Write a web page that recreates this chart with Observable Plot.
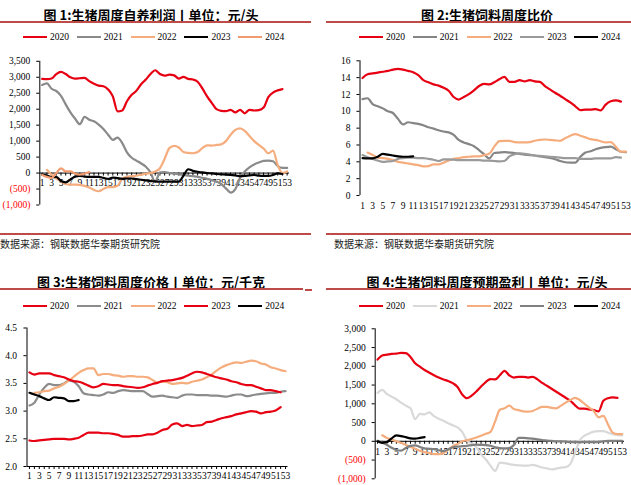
<!DOCTYPE html>
<html><head><meta charset="utf-8">
<script src="https://cdn.jsdelivr.net/npm/d3@7"></script>
<script src="https://cdn.jsdelivr.net/npm/@observablehq/plot@0.6"></script>
<style>
body{margin:0;width:631px;height:485px;position:relative;overflow:hidden;background:#fff;font-family:"Liberation Serif",serif;}
.title{position:absolute;font-family:"Noto Sans CJK SC",sans-serif;font-weight:700;font-size:13px;color:#000;white-space:nowrap;transform:translate(-50%,-50%);line-height:1;}
.rule{position:absolute;height:2px;background:#BE4B48;}
.src{position:absolute;font-family:"Noto Sans CJK SC",sans-serif;font-size:10px;color:#222;white-space:nowrap;transform:translateY(-50%);line-height:1;}
.chart{position:absolute;}
.lg{position:absolute;display:flex;align-items:center;transform:translateY(-50%);font-size:9.5px;color:#000;white-space:nowrap;}
.lg span.ln{display:inline-block;width:24px;height:2.5px;margin-right:3px;}
</style></head>
<body>
<script>
const weeks = d3.range(1, 54);
const oddWeeks = weeks.filter(w => w % 2 === 1);
const years = ["2020", "2021", "2022", "2023", "2024"];
const N = null;

// ---------- Panel 1: 生猪周度自养利润 (元/头) ----------
const p1Title = "图 1:生猪周度自养利润丨单位：元/头";
const p1Colors = ["#E60012", "#8A8A8A", "#F5AD7E", "#000000", "#F39B70"];
const p1YTicks = [-1000, -500, 0, 500, 1000, 1500, 2000, 2500, 3000, 3500];
const p1_2020 = [2950,2940,2960,3100,3170,3100,3000,2960,2970,2980,2880,2800,2740,2720,2620,2400,1930,1960,2250,2450,2580,2780,2930,3100,3220,3100,3050,3080,3060,2960,3010,2950,2930,2860,2650,2400,2200,2000,1950,1940,1980,1900,1980,1870,1980,1960,1970,2050,2380,2520,2590,2630,N];
const p1_2021 = [2760,2810,2640,2570,2420,2150,1900,1700,1530,1760,1670,1620,1520,1380,1200,1040,1110,940,650,480,390,300,200,20,-280,20,30,0,-20,-40,-60,-80,-100,-120,-150,-180,-220,-270,-340,-480,-610,-500,-150,50,180,270,330,380,390,370,220,160,160];
const p1_2022 = [N,100,-50,-170,-250,-350,-360,-360,-370,-400,-450,-530,-570,-500,-440,-440,-400,-170,-120,-100,-80,-50,-20,0,50,150,450,780,850,800,660,630,620,660,780,870,860,880,900,1000,1200,1350,1400,1320,1160,1000,880,770,620,700,250,0,50];
const p1_2023 = [-50,-80,-130,-120,-250,-290,-200,-110,-90,-110,-120,-120,-120,-150,-180,-140,-160,-180,-170,-170,-190,-210,-230,-250,-260,-270,-270,-270,-270,-270,-80,120,70,40,20,0,-10,-30,-40,-50,-60,-70,-100,-90,-70,-60,-80,-90,-90,-60,-10,-30,N];
const p1_2024 = [-60,-120,-150,0,150,50,50,-20,-50,-20,30];

// ---------- Panel 2: 生猪饲料周度比价 ----------
const p2Title = "图 2:生猪饲料周度比价";
const p2Colors = ["#E60012", "#858585", "#F5AD7E", "#9A9A9A", "#000000"];
const p2YTicks = [0, 2, 4, 6, 8, 10, 12, 14, 16];
const p2_2020 = [13.95,14.4,14.5,14.6,14.7,14.8,14.95,15.05,14.95,14.8,14.65,14.3,13.7,13.45,13.2,13.05,12.8,12.45,11.7,11.4,11.7,12.05,12.5,13.0,13.25,13.2,13.45,13.8,14.1,13.5,13.5,13.7,13.55,13.7,13.55,13.5,13.0,12.6,12.2,11.85,11.45,11.05,10.6,10.15,10.2,10.2,10.25,10.1,10.8,11.2,11.3,11.15,N];
const p2_2021 = [11.45,11.55,10.85,10.6,10.35,10.0,9.8,9.1,8.45,8.7,8.6,8.5,8.35,8.1,7.95,7.75,7.6,7.5,7.2,6.6,6.3,6.1,5.85,5.4,4.9,4.4,5.05,5.1,5.15,5.1,5.05,4.95,4.85,4.8,4.75,4.65,4.55,4.45,4.3,4.1,3.95,3.9,3.9,4.6,5.1,5.25,5.5,5.65,5.75,5.8,5.5,5.2,5.15];
const p2_2022 = [N,5.1,4.8,4.5,4.45,4.35,4.2,4.0,3.9,3.8,3.7,3.6,3.47,3.5,3.7,3.7,3.9,4.15,4.35,4.45,4.55,4.6,4.65,4.65,4.8,4.95,5.8,6.45,6.5,6.5,6.35,6.3,6.3,6.35,6.5,6.6,6.65,6.6,6.55,6.5,6.8,7.1,7.3,7.1,6.9,6.7,6.6,6.45,6.3,6.35,5.8,5.2,5.2];
const p2_2023 = [4.8,4.55,4.35,4.15,4.0,4.05,4.1,4.35,4.45,4.5,4.5,4.45,4.45,4.35,4.25,4.1,4.3,4.3,4.25,4.2,4.2,4.2,4.2,4.2,4.15,4.15,4.1,4.05,4.1,4.65,4.9,5.0,4.95,4.85,4.75,4.7,4.65,4.6,4.55,4.5,4.45,4.45,4.45,4.35,4.35,4.35,4.4,4.4,4.4,4.4,4.55,4.5,N];
const p2_2024 = [4.45,4.4,4.4,4.6,4.95,4.85,4.75,4.65,4.6,4.6,4.65];

// ---------- Panel 3: 生猪饲料周度价格 (元/千克) ----------
const p3Title = "图 3:生猪饲料周度价格丨单位：元/千克";
const p3Colors = ["#E60012", "#8C8C8C", "#F5AD7E", "#E60012", "#000000"];
const p3YTicks = [2.0, 2.5, 3.0, 3.5, 4.0, 4.5];
const p3_2020 = [2.47,2.46,2.47,2.48,2.49,2.50,2.50,2.50,2.49,2.50,2.52,2.57,2.61,2.61,2.61,2.60,2.60,2.59,2.57,2.54,2.54,2.55,2.55,2.56,2.58,2.58,2.61,2.66,2.68,2.76,2.78,2.73,2.75,2.73,2.74,2.75,2.80,2.81,2.84,2.87,2.89,2.91,2.94,2.96,2.98,3.00,2.99,2.96,2.98,2.99,3.01,3.07,N];
const p3_2021 = [3.10,3.15,3.30,3.42,3.49,3.47,3.47,3.50,3.55,3.53,3.45,3.32,3.30,3.29,3.28,3.30,3.34,3.33,3.36,3.38,3.37,3.36,3.36,3.36,3.31,3.26,3.27,3.28,3.26,3.25,3.24,3.28,3.30,3.30,3.29,3.29,3.29,3.28,3.28,3.27,3.26,3.28,3.30,3.30,3.27,3.28,3.30,3.31,3.32,3.33,3.33,3.35,3.36];
const p3_2022 = [N,3.33,3.34,3.36,3.37,3.41,3.44,3.49,3.55,3.62,3.69,3.74,3.77,3.77,3.65,3.67,3.67,3.65,3.64,3.62,3.63,3.63,3.62,3.62,3.61,3.56,3.52,3.53,3.52,3.49,3.50,3.51,3.50,3.53,3.55,3.57,3.61,3.66,3.73,3.79,3.83,3.86,3.88,3.87,3.89,3.91,3.90,3.86,3.84,3.79,3.77,3.74,3.72];
const p3_2023 = [3.70,3.66,3.68,3.68,3.68,3.65,3.63,3.61,3.57,3.54,3.53,3.50,3.46,3.43,3.45,3.49,3.48,3.47,3.47,3.45,3.44,3.43,3.42,3.43,3.46,3.49,3.51,3.54,3.55,3.56,3.58,3.60,3.64,3.68,3.71,3.70,3.67,3.64,3.61,3.59,3.57,3.54,3.52,3.49,3.47,3.47,3.44,3.41,3.38,3.38,3.36,3.34,N];
const p3_2024 = [3.33,3.30,3.27,3.23,3.20,3.25,3.24,3.23,3.18,3.18,3.20];

// ---------- Panel 4: 生猪饲料周度预期盈利 (元/头) ----------
const p4Title = "图 4:生猪饲料周度预期盈利丨单位：元/头";
const p4Colors = ["#E60012", "#D9D9D9", "#F5AD7E", "#808080", "#000000"];
const p4YTicks = [-1000, -500, 0, 500, 1000, 1500, 2000, 2500, 3000];
const p4_2020 = [2180,2290,2310,2330,2340,2360,2350,2250,2080,1990,1900,1830,1760,1700,1650,1610,1550,1450,1250,1150,1220,1330,1460,1580,1660,1650,1760,1880,1760,1700,1720,1720,1700,1720,1650,1560,1480,1400,1320,1240,1160,1080,960,870,870,850,830,800,1080,1150,1170,1160,N];
const p4_2021 = [1290,1370,1260,1190,1120,1030,950,880,590,730,720,770,670,600,550,480,430,370,250,20,-60,-150,-350,-480,-650,-790,-570,-580,-610,-630,-640,-650,-650,-630,-660,-700,-720,-750,-730,-700,-690,-600,-300,30,150,210,260,270,270,230,190,170,160];
const p4_2022 = [N,160,90,50,0,-40,-100,-150,-200,-250,-290,-310,-340,-340,-310,-220,-130,-70,0,30,60,100,150,200,250,530,840,880,950,860,830,800,790,810,870,920,920,890,880,950,1030,1100,1160,1100,1000,900,800,640,680,450,230,190,190];
const p4_2023 = [15,-30,-100,-170,-230,-250,-180,-120,-110,-150,-190,-200,-210,-240,-260,-220,-160,-140,-130,-120,-100,-90,-95,-100,-120,-160,-180,-190,-180,-100,90,90,80,70,50,30,20,10,0,0,-10,-20,-20,-20,-20,-20,-20,-20,0,10,10,15,15];
const p4_2024 = [0,-40,-20,80,160,140,110,80,70,90,110];

const srcText = "数据来源：钢联数据华泰期货研究院";

const fmtMoney = d => d < 0 ? "(" + d3.format(",")(-d) + ")" : d3.format(",")(d);

function el(cls, css, html) {
  const e = document.createElement("div");
  e.className = cls;
  Object.assign(e.style, css);
  if (html != null) e.innerHTML = html;
  document.body.appendChild(e);
  return e;
}

function legend(x0, yc, colors) {
  years.forEach((yr, i) => {
    el("lg", {left: (x0 + i * 53.8) + "px", top: yc + "px"},
      `<span class="ln" style="background:${colors[i]}"></span><span>${yr}</span>`);
  });
}

function drawPanel(cfg) {
  const rows = [];
  cfg.series.forEach((vals, i) => vals.forEach((v, j) => {
    if (v !== null && v !== undefined) rows.push({year: years[i], week: weeks[j], value: v});
  }));
  const innerH = cfg.height - cfg.mt - cfg.mb;
  const innerW = cfg.width - cfg.ml - cfg.mr;
  const yPer = innerH / (cfg.yDomain[1] - cfg.yDomain[0]);
  const xPer = innerW / 54;
  const tY = 3 / yPer, tX = 3 / xPer;
  const marks = [];
  // y axis line + ticks + labels
  marks.push(Plot.ruleX([0.5], {stroke: "#000", strokeWidth: 1}));
  marks.push(Plot.ruleY(cfg.yTicks, {y: d => d, x1: 0.5 - tX, x2: 0.5, stroke: "#000", strokeWidth: 1}));
  marks.push(Plot.text(cfg.yTicks, {y: d => d, x: 0.5, dx: -cfg.labelPad, textAnchor: "end", text: cfg.fmt, fontSize: 9.5, fill: d => d < 0 ? "#FF0000" : "#000000"}));
  // x axis
  if (cfg.xLine) {
    marks.push(Plot.ruleY([cfg.xBase], {x1: 0.5, x2: 53.5, stroke: "#000", strokeWidth: 1}));
    marks.push(Plot.ruleX(weeks, {x: d => d, y1: cfg.xBase, y2: cfg.xBase - tY, stroke: "#000", strokeWidth: 1}));
  }
  marks.push(Plot.text(oddWeeks, {x: d => d, y: cfg.xBase, dy: cfg.xLabelDy, text: d => String(d), fontSize: 9.5, fill: "#000"}));
  years.forEach((yr, i) => {
    marks.push(Plot.line(rows.filter(r => r.year === yr), {x: "week", y: "value", stroke: cfg.colors[i], strokeWidth: 2.2, curve: "monotone-x"}));
  });
  const svg = Plot.plot({
    width: cfg.width, height: cfg.height,
    marginTop: cfg.mt, marginBottom: cfg.mb, marginLeft: cfg.ml, marginRight: cfg.mr,
    x: {domain: [0.5, 53.5], axis: null},
    y: {domain: cfg.yDomain, axis: null},
    style: {fontFamily: '"Liberation Serif", serif', fontSize: "9.5px", background: "transparent", overflow: "visible", color: "#000"},
    marks
  });
  const wrap = el("chart", {left: cfg.left + "px", top: cfg.top + "px"});
  wrap.appendChild(svg);
}

// ----- Panel 1 -----
el("title", {left: "151px", top: "13.5px"}, p1Title);
el("rule", {left: "0px", top: "20.5px", width: "311px"});
legend(23, 37, p1Colors);
drawPanel({left: 0, top: 50, width: 316, height: 170, mt: 10.8, mb: 15.5, ml: 39.3, mr: 27,
  yDomain: [-1000, 3500], yTicks: p1YTicks, fmt: fmtMoney, labelPad: 9.5, xBase: 0, xLine: true, xLabelDy: 9.5,
  colors: p1Colors, series: [p1_2020, p1_2021, p1_2022, p1_2023, p1_2024]});
el("rule", {left: "0px", top: "232.5px", width: "311px"});
el("src", {left: "0px", top: "243.5px"}, srcText);

// ----- Panel 2 -----
el("title", {left: "487px", top: "13.5px"}, p2Title);
el("rule", {left: "326px", top: "20.5px", width: "305px"});
legend(359, 37, p2Colors);
drawPanel({left: 316, top: 50, width: 315, height: 170, mt: 10.3, mb: 25, ml: 43.5, mr: 3,
  yDomain: [0, 16], yTicks: p2YTicks, fmt: d => String(d), labelPad: 9.5, xBase: 0, xLine: false, xLabelDy: 10,
  colors: p2Colors, series: [p2_2020, p2_2021, p2_2022, p2_2023, p2_2024]});
el("rule", {left: "326px", top: "232.5px", width: "305px"});
el("src", {left: "334px", top: "243.5px"}, srcText);

// ----- Panel 3 -----
el("title", {left: "151px", top: "280.5px"}, p3Title);
el("rule", {left: "0px", top: "287.5px", width: "303px"});
el("rule", {left: "305px", top: "288.5px", width: "7px"});
legend(23, 306, p3Colors);
drawPanel({left: 0, top: 318, width: 316, height: 167, mt: 9.5, mb: 19, ml: 26.5, mr: 28.5,
  yDomain: [2.0, 4.5], yTicks: p3YTicks, fmt: d3.format(".1f"), labelPad: 10, xBase: 2.0, xLine: true, xLabelDy: 9.5,
  colors: p3Colors, series: [p3_2020, p3_2021, p3_2022, p3_2023, p3_2024]});

// ----- Panel 4 -----
el("title", {left: "487px", top: "280.5px"}, p4Title);
el("rule", {left: "326px", top: "287.5px", width: "305px"});
legend(359, 306, p4Colors);
drawPanel({left: 316, top: 318, width: 315, height: 167, mt: 10.3, mb: 6.7, ml: 58.7, mr: 7,
  yDomain: [-1000, 3000], yTicks: p4YTicks, fmt: fmtMoney, labelPad: 9.5, xBase: 0, xLine: true, xLabelDy: 11,
  colors: p4Colors, series: [p4_2020, p4_2021, p4_2022, p4_2023, p4_2024]});
</script>
</body></html>
